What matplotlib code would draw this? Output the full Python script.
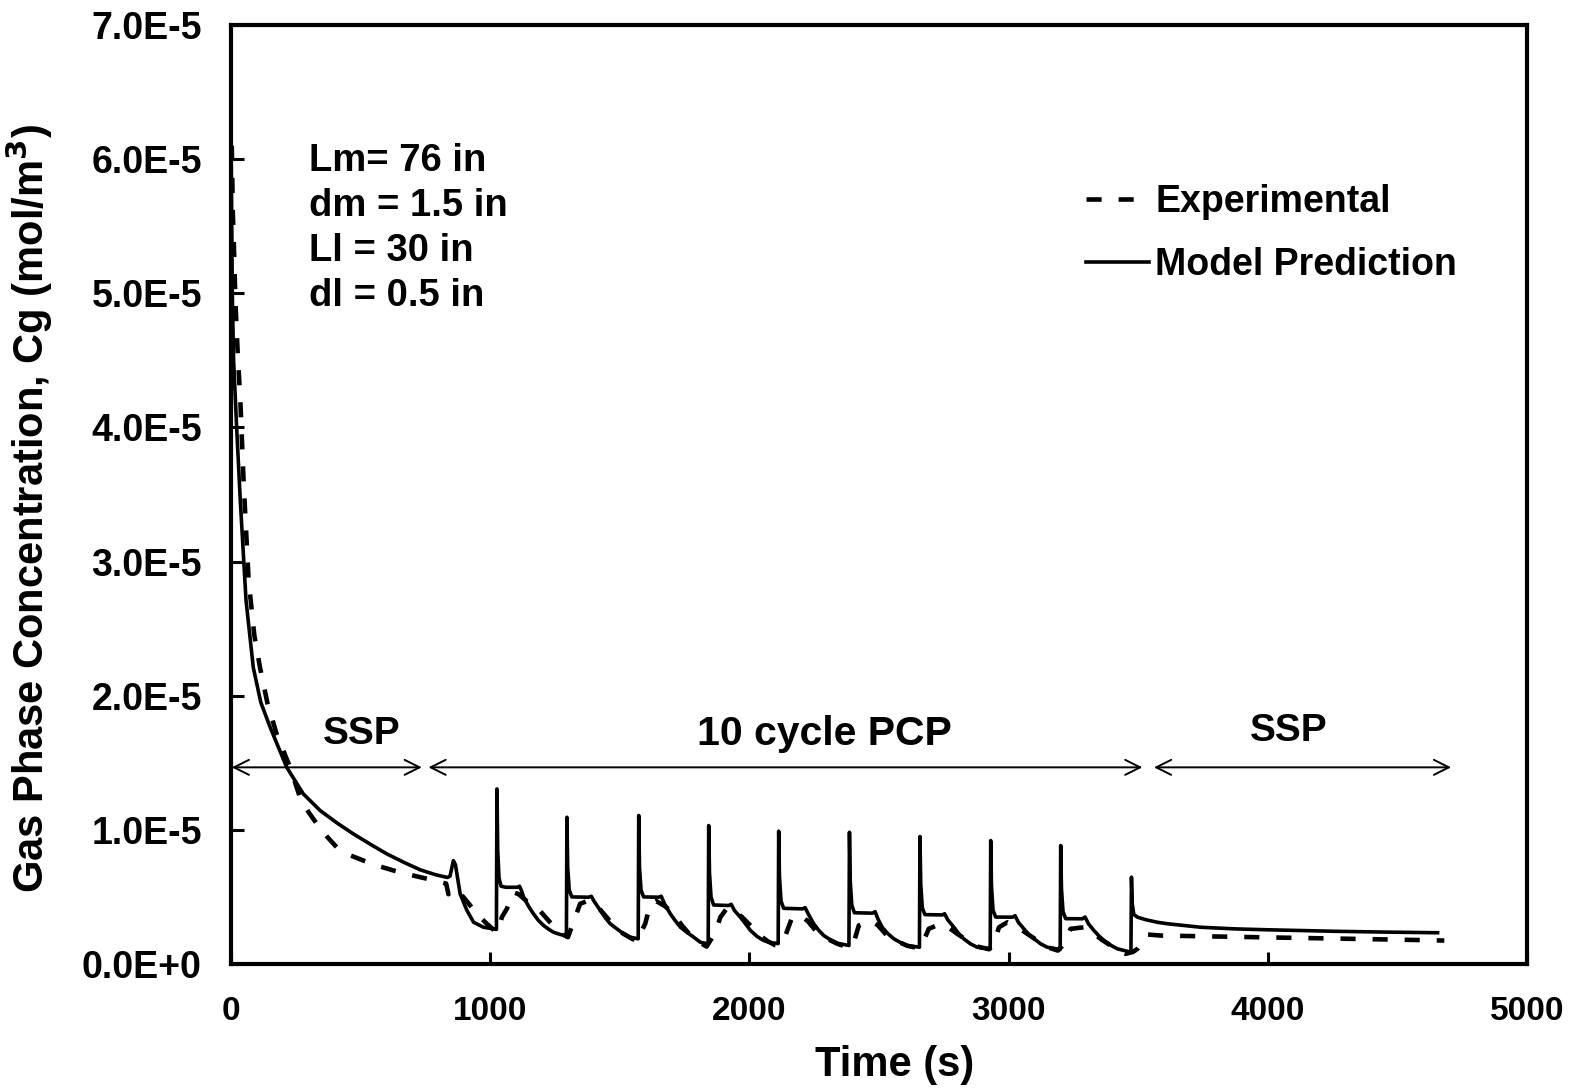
import matplotlib
matplotlib.use("Agg")
import matplotlib.pyplot as plt
from matplotlib.ticker import FuncFormatter, FixedLocator
import math

plt.rcParams['font.family'] = ['Liberation Sans', 'DejaVu Sans']
plt.rcParams['font.weight'] = 'bold'

SCALE = 1e-5  # values below are in units of 1E-5 mol/m3

# Model prediction (time s, Cg x1E-5)
model_t = [0, 2, 5, 10, 23, 36, 58, 86, 115, 151, 215, 279, 344, 410, 472, 540, 601, 670, 730, 790, 835,
           845, 858, 866, 884, 910, 936, 974, 1013, 1024,
           1026, 1029, 1034, 1042, 1060, 1105, 1113, 1120, 1129, 1148, 1167, 1186, 1206, 1225, 1244, 1270, 1294,
           1296, 1299, 1305, 1315, 1380, 1390, 1400, 1425, 1444, 1463, 1490, 1515, 1540, 1571,
           1573, 1576, 1582, 1592, 1650, 1660, 1672, 1695, 1715, 1734, 1760, 1785, 1811, 1841,
           1843, 1846, 1852, 1862, 1920, 1930, 1942, 1965, 1985, 2004, 2030, 2055, 2080, 2111,
           2113, 2116, 2122, 2132, 2205, 2215, 2228, 2248, 2268, 2287, 2313, 2339, 2384,
           2386, 2389, 2395, 2405, 2475, 2485, 2495, 2512, 2535, 2557, 2583, 2609, 2656,
           2658, 2661, 2667, 2677, 2745, 2753, 2765, 2789, 2808, 2827, 2853, 2879, 2929,
           2931, 2934, 2940, 2950, 3015, 3025, 3038, 3059, 3078, 3098, 3124, 3149, 3199,
           3201, 3204, 3210, 3220, 3285, 3295, 3308, 3329, 3348, 3368, 3394, 3420, 3472,
           3474, 3477, 3483, 3497, 3530, 3574, 3613, 3741, 3870, 4000, 4256, 4450, 4655]
model_c = [6.20, 5.70, 5.00, 4.50, 3.95, 3.45, 2.71, 2.21, 1.95, 1.765, 1.466, 1.268, 1.144, 1.05, 0.97, 0.89, 0.821, 0.755, 0.702, 0.665, 0.645,
           0.655, 0.77, 0.74, 0.523, 0.40, 0.311, 0.274, 0.262, 0.258,
           1.305, 0.85, 0.64, 0.58, 0.572, 0.572, 0.58, 0.55, 0.498, 0.43, 0.374, 0.325, 0.287, 0.26, 0.237, 0.22, 0.212,
           1.094, 0.72, 0.55, 0.50, 0.498, 0.505, 0.47, 0.399, 0.345, 0.30, 0.26, 0.225, 0.20, 0.188,
           1.107, 0.72, 0.55, 0.50, 0.498, 0.505, 0.45, 0.374, 0.32, 0.274, 0.235, 0.20, 0.162, 0.15,
           1.032, 0.68, 0.50, 0.44, 0.436, 0.445, 0.40, 0.349, 0.30, 0.25, 0.205, 0.175, 0.16, 0.152,
           0.99, 0.65, 0.47, 0.415, 0.411, 0.42, 0.37, 0.30, 0.25, 0.212, 0.18, 0.155, 0.138,
           0.982, 0.62, 0.44, 0.382, 0.379, 0.39, 0.34, 0.274, 0.225, 0.188, 0.16, 0.138, 0.125,
           0.95, 0.60, 0.42, 0.368, 0.366, 0.375, 0.33, 0.274, 0.225, 0.188, 0.15, 0.125, 0.113,
           0.92, 0.58, 0.40, 0.35, 0.349, 0.36, 0.31, 0.262, 0.22, 0.188, 0.15, 0.125, 0.108,
           0.883, 0.56, 0.39, 0.338, 0.337, 0.35, 0.30, 0.25, 0.21, 0.175, 0.14, 0.113, 0.088,
           0.647, 0.45, 0.37, 0.349, 0.33, 0.311, 0.30, 0.274, 0.262, 0.255, 0.244, 0.238, 0.233]

# Experimental (time s, Cg x1E-5)
exp_t = [3, 7, 12, 17, 26, 36, 49, 68, 90, 112, 140, 176, 228, 266, 300, 331, 370, 408, 460, 511, 570, 627, 680, 730, 770, 807, 830,
         839, 855, 870, 897, 923, 961, 987, 1010, 1030,
         1045, 1064, 1090, 1110, 1140, 1180, 1219, 1250, 1280, 1300,
         1328, 1347, 1375, 1405, 1444, 1480, 1510, 1545, 1570,
         1579, 1598, 1618, 1640, 1675, 1708, 1740, 1770, 1800, 1835,
         1869, 1888, 1915, 1939, 1972, 2017, 2042, 2070, 2100, 2113,
         2139, 2165, 2197, 2225, 2255, 2300, 2340, 2380,
         2403, 2422, 2467, 2495, 2525, 2564, 2610, 2650,
         2665, 2692, 2737, 2770, 2802, 2841, 2880, 2925,
         2940, 2963, 2995, 3030, 3072, 3111, 3150, 3190,
         3210, 3239, 3291, 3320, 3360, 3400, 3452, 3480, 3497,
         3536, 3587, 3800, 4100, 4400, 4681]
exp_c = [6.10, 5.60, 5.30, 4.94, 4.55, 4.20, 3.58, 2.86, 2.45, 2.21, 1.95, 1.715, 1.466, 1.243, 1.13, 1.045, 0.95, 0.87, 0.81, 0.771, 0.73, 0.697, 0.67, 0.647, 0.63, 0.61, 0.60,
         0.52, 0.56, 0.55, 0.498, 0.436, 0.349, 0.30, 0.26, 0.24,
         0.349, 0.411, 0.535, 0.52, 0.47, 0.423, 0.337, 0.27, 0.22, 0.20,
         0.349, 0.449, 0.47, 0.449, 0.361, 0.28, 0.23, 0.19, 0.17,
         0.225, 0.30, 0.45, 0.47, 0.43, 0.374, 0.287, 0.22, 0.17, 0.13,
         0.237, 0.349, 0.42, 0.40, 0.349, 0.262, 0.212, 0.17, 0.14, 0.138,
         0.212, 0.349, 0.361, 0.32, 0.25, 0.188, 0.15, 0.125,
         0.162, 0.287, 0.324, 0.29, 0.225, 0.175, 0.135, 0.12,
         0.14, 0.262, 0.30, 0.27, 0.225, 0.175, 0.13, 0.11,
         0.14, 0.274, 0.311, 0.28, 0.225, 0.175, 0.125, 0.10,
         0.14, 0.262, 0.274, 0.24, 0.18, 0.13, 0.076, 0.09, 0.113,
         0.22, 0.212, 0.205, 0.195, 0.185, 0.175]

x_ticks = [0, 1000, 2000, 3000, 4000, 5000]
y_ticks = [0, 1, 2, 3, 4, 5, 6, 7]

params_text = ["Lm= 76 in", "dm = 1.5 in", "Ll = 30 in", "dl = 0.5 in"]
phase_labels = ["SSP", "10 cycle PCP", "SSP"]
phase_spans = [(3, 736), (762, 3516), (3561, 4707)]
phase_label_t = [505, 2290, 4080]

fig = plt.figure(figsize=(15.8, 10.89), dpi=100)
ax = fig.add_axes([231/1580, 1 - 964/1089, (1527-231)/1580, (964-25)/1089])

ax.plot(exp_t, [v * SCALE for v in exp_c], color='black', lw=3.3, linestyle=(0, (3.3, 3.7)),
        label='Experimental')
ax.plot(model_t, [v * SCALE for v in model_c], color='black', lw=2.6, linestyle='-',
        label='Model Prediction', solid_joinstyle='round')

ax.set_xlim(0, 5000)
ax.set_ylim(0, 7 * SCALE)
ax.xaxis.set_major_locator(FixedLocator(x_ticks))
ax.yaxis.set_major_locator(FixedLocator([v * SCALE for v in y_ticks]))


def sci_fmt(v, pos):
    if abs(v) < 1e-20:
        return "0.0E+0"
    e = math.floor(math.log10(abs(v)) + 1e-9)
    m = v / 10 ** e
    return f"{m:.1f}E{e:+d}"


ax.yaxis.set_major_formatter(FuncFormatter(sci_fmt))
ax.xaxis.set_major_formatter(FuncFormatter(lambda v, p: f"{int(v)}"))

for s in ax.spines.values():
    s.set_linewidth(3.0)
ax.tick_params(axis='both', direction='in', length=9, width=2.2,
               top=False, right=False)
ax.tick_params(axis='y', labelsize=27, pad=21)
ax.tick_params(axis='x', labelsize=24, pad=23)
for lab in ax.get_xticklabels() + ax.get_yticklabels():
    lab.set_fontweight('bold')

ax.set_xlabel("Time (s)", fontsize=30, fontweight='bold')
ax.xaxis.set_label_coords(0.512, -0.086)
ax.set_ylabel("Gas Phase Concentration, Cg (mol/m$^\\mathbf{3}$)", fontsize=30, fontweight='bold')
ax.yaxis.set_label_coords(-0.136, 0.4846)

# phase arrows and labels
arrow_y = 1.466 * SCALE
for (a, b) in phase_spans:
    ax.annotate('', xy=(b, arrow_y), xytext=(a, arrow_y),
                arrowprops=dict(arrowstyle='<->, head_length=0.4, head_width=0.2',
                                mutation_scale=27, lw=1.4, color='black',
                                shrinkA=0, shrinkB=0))
label_base = [1.641, 1.63, 1.66]
label_size = [28, 29.5, 28]
for lab, t, yb, fs in zip(phase_labels, phase_label_t, label_base, label_size):
    ax.text(t, yb * SCALE, lab, fontsize=fs, fontweight='bold', ha='center', va='baseline')

# parameter block
param_base = [5.908, 5.577, 5.242, 4.907]
for s, yb in zip(params_text, param_base):
    ax.text(300, yb * SCALE, s, fontsize=27.5, fontweight='bold', ha='left', va='baseline')

leg = ax.legend(loc='upper left', bbox_to_anchor=(0.66, 0.831), frameon=False,
                fontsize=27, handlelength=1.68, handletextpad=0.16, labelspacing=0.72,
                borderpad=0, borderaxespad=0)
for t in leg.get_texts():
    t.set_fontweight('bold')

fig.savefig("out.png", dpi=100)
